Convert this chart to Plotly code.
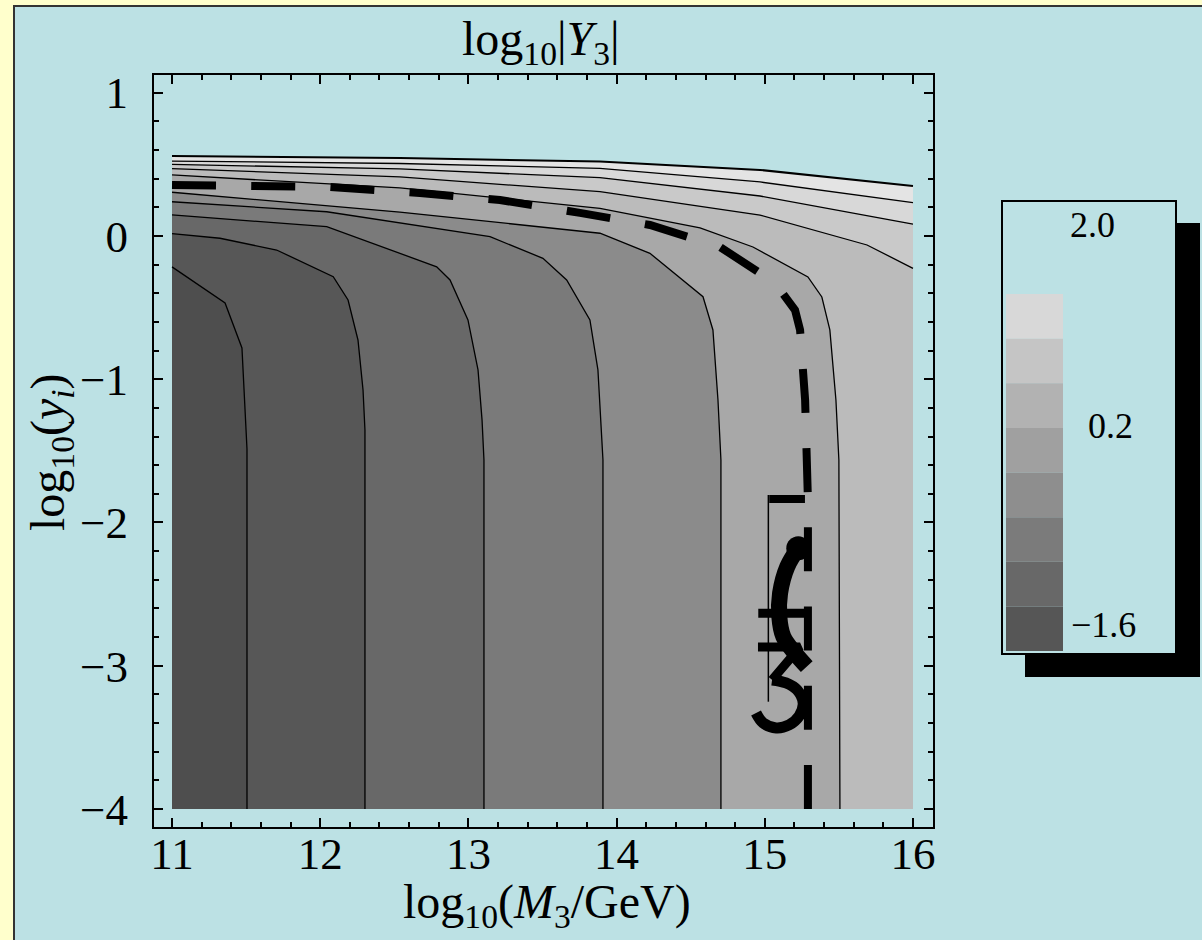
import math
import plotly.graph_objects as go

# ---------------- data ----------------
x_ticks = [11, 12, 13, 14, 15, 16]
y_ticks = [-4, -3, -2, -1, 0, 1]

# contour lines (log10 M3, log10 y_i); those ending at the bottom first
A_x = [11.0, 11.358, 11.472, 11.493, 11.506, 11.506]
A_y = [-0.216, -0.468, -0.782, -1.187, -1.487, -4.0]
B_x = [11.0, 11.324, 11.706, 12.088, 12.188, 12.255, 12.289, 12.302, 12.302]
B_y = [0.016, -0.016, -0.098, -0.284, -0.447, -0.726, -1.075, -1.354, -4.0]
C_x = [11.0, 12.044, 12.786, 12.876, 12.997, 13.065, 13.092, 13.105, 13.105]
C_y = [0.147, 0.065, -0.215, -0.307, -0.586, -0.935, -1.284, -1.564, -4.0]
D_x = [11.0, 12.044, 13.146, 13.503, 13.663, 13.820, 13.874, 13.895, 13.908, 13.908]
D_y = [0.239, 0.169, -0.005, -0.156, -0.307, -0.586, -0.935, -1.354, -1.564, -4.0]
E_x = [11.0, 12.538, 13.888, 14.225, 14.583, 14.650, 14.684, 14.704, 14.704]
E_y = [0.305, 0.167, 0.019, -0.121, -0.424, -0.656, -1.145, -1.564, -4.0]
F_x = [11.0, 12.538, 13.888, 14.563, 14.920, 15.291, 15.385, 15.439, 15.480, 15.500, 15.507]
F_y = [0.426, 0.335, 0.193, 0.056, -0.077, -0.286, -0.426, -0.656, -1.145, -1.564, -4.0]
# contours ending at the right edge
G_x = [11.0, 12.538, 13.888, 14.968, 15.690, 16.0]
G_y = [0.470, 0.412, 0.309, 0.146, -0.063, -0.226]
H_x = [11.0, 12.538, 13.888, 14.968, 16.0]
H_y = [0.500, 0.468, 0.407, 0.279, 0.082]
I_x = [11.0, 12.538, 13.888, 14.968, 16.0]
I_y = [0.523, 0.506, 0.472, 0.377, 0.232]
T_x = [11.0, 12.538, 13.888, 14.968, 16.0]
T_y = [0.558, 0.544, 0.519, 0.461, 0.349]

# dashed curve
dash_x = [11.0, 11.526, 12.066, 12.673, 13.213, 13.753, 14.225, 14.698, 15.069,
          15.204, 15.238, 15.272, 15.291, 15.291]
dash_y = [0.356, 0.356, 0.342, 0.300, 0.251, 0.161, 0.077, -0.077, -0.328,
          -0.517, -0.656, -1.145, -1.843, -4.0]

# glyph-like marks near (15.1, -2.6)
thin_x = [15.024, 15.024]
thin_y = [-1.808, -3.251]
topbar_x = [15.030, 15.271]
topbar_y = [-1.836, -1.836]
arc_x = [15.226, 15.152, 15.103, 15.098, 15.125, 15.204, 15.283]
arc_y = [-2.180, -2.308, -2.494, -2.657, -2.797, -2.913, -3.006]
bar2_x = [14.956, 15.305]
bar2_y = [-2.634, -2.634]
ezh_top_x = [14.954, 15.238, 15.049]
ezh_top_y = [-2.869, -2.869, -3.099]
bowl_x = [15.049, 15.143, 15.218, 15.259, 15.232, 15.164, 15.077, 14.988, 14.941]
bowl_y = [-3.099, -3.120, -3.169, -3.260, -3.351, -3.413, -3.434, -3.399, -3.330]

legend_colors = ["#D8D8D8", "#C5C5C5", "#B2B2B2", "#A0A0A0",
                 "#8E8E8E", "#7B7B7B", "#686868", "#565656"]
legend_labels = ["2.0", "0.2", "\u22121.6"]

# ---------------- figure ----------------
W, H = 1202, 940
L, R, T, B = 154, 933, 75, 827
XR = [10.8785, 16.135]
YR = [-4.1256, 1.1236]
BLUE = "#BCE1E4"
FONT = "Liberation Serif"


def px(xp):
    return (xp - L) / (R - L)


def py(yp):
    return (B - yp) / (B - T)


fig = go.Figure()

bottom_contours = [(A_x, A_y, "#4E4E4E"), (B_x, B_y, "#575757"), (C_x, C_y, "#686868"),
                   (D_x, D_y, "#7A7A7A"), (E_x, E_y, "#8B8B8B"), (F_x, F_y, "#A8A8A8")]
right_contours = [(T_x, T_y, "#E4E4E4"), (I_x, I_y, "#D8D8D8"),
                  (H_x, H_y, "#C9C9C9"), (G_x, G_y, "#BBBBBB")]

# fills, lightest first
for xs, ys, col in right_contours:
    fig.add_trace(go.Scatter(x=xs + [16.0, 11.0], y=ys + [-4.0, -4.0], fill="toself",
                             fillcolor=col, mode="lines", line=dict(width=0),
                             hoverinfo="skip", showlegend=False))
for xs, ys, col in reversed(bottom_contours):
    fig.add_trace(go.Scatter(x=xs + [11.0], y=ys + [-4.0], fill="toself",
                             fillcolor=col, mode="lines", line=dict(width=0),
                             hoverinfo="skip", showlegend=False))
# contour lines
for xs, ys, col in bottom_contours + right_contours:
    fig.add_trace(go.Scatter(x=xs, y=ys, mode="lines",
                             line=dict(color="black", width=2 if xs is T_x else 1.3),
                             hoverinfo="skip", showlegend=False))

# dashed line: choose the gap so that the pattern ends on a full dash
sx = (R - L) / (XR[1] - XR[0])
sy = (B - T) / (YR[1] - YR[0])
plen = sum(math.hypot((dash_x[i + 1] - dash_x[i]) * sx, (dash_y[i + 1] - dash_y[i]) * sy)
           for i in range(len(dash_x) - 1))
dash_on = 44
nper = round((plen - dash_on) / 77)
gap = (plen - dash_on) / nper - dash_on
fig.add_trace(go.Scatter(x=dash_x, y=dash_y, mode="lines",
                         line=dict(color="black", width=8,
                                   dash=f"{dash_on}px,{gap:.2f}px"),
                         hoverinfo="skip", showlegend=False))

# glyph marks
for xs, ys, w, shp in [(thin_x, thin_y, 1.5, "linear"), (topbar_x, topbar_y, 8, "linear"),
                       (arc_x, arc_y, 16, "spline"), (bar2_x, bar2_y, 9, "linear"),
                       (ezh_top_x, ezh_top_y, 9, "linear"), (bowl_x, bowl_y, 11, "spline")]:
    fig.add_trace(go.Scatter(x=xs, y=ys, mode="lines",
                             line=dict(color="black", width=w, shape=shp),
                             hoverinfo="skip", showlegend=False))
fig.add_trace(go.Scatter(x=[arc_x[0]], y=[arc_y[0]], mode="markers",
                         marker=dict(color="black", size=24), hoverinfo="skip",
                         showlegend=False))

shapes = []
# blue panel
shapes.append(dict(type="rect", xref="paper", yref="paper", x0=px(14), x1=px(1215),
                   y0=py(6), y1=py(960), fillcolor=BLUE,
                   line=dict(color="#333333", width=2), layer="below"))
# legend shadow + box
shapes.append(dict(type="rect", xref="paper", yref="paper", x0=px(1025), x1=px(1200),
                   y0=py(223), y1=py(677), fillcolor="black", line=dict(width=0)))
shapes.append(dict(type="rect", xref="paper", yref="paper", x0=px(1002), x1=px(1176),
                   y0=py(201), y1=py(654), fillcolor=BLUE,
                   line=dict(color="black", width=2)))
band_h = (651 - 294) / len(legend_colors)
for i, c in enumerate(legend_colors):
    shapes.append(dict(type="rect", xref="paper", yref="paper", x0=px(1006), x1=px(1063),
                       y0=py(294 + (i + 1) * band_h), y1=py(294 + i * band_h),
                       fillcolor=c, line=dict(width=0)))

annotations = []
for lab, (cx, cy) in zip(legend_labels, [(1092, 225), (1110, 426), (1103, 625)]):
    annotations.append(dict(text=lab, x=px(cx), y=py(cy), xref="paper", yref="paper",
                            showarrow=False, xanchor="center", yanchor="middle",
                            font=dict(family=FONT, size=36, color="black")))
annotations.append(dict(text="log<sub>10</sub>|<i>Y</i><sub>3</sub>|", x=px(541), y=py(42),
                        xref="paper", yref="paper", showarrow=False,
                        xanchor="center", yanchor="middle",
                        font=dict(family=FONT, size=48, color="black")))
annotations.append(dict(text="log<sub>10</sub>(<i>M</i><sub>3</sub>/GeV)", x=px(547), y=py(905),
                        xref="paper", yref="paper", showarrow=False,
                        xanchor="center", yanchor="middle",
                        font=dict(family=FONT, size=48, color="black")))
annotations.append(dict(text="log<sub>10</sub>(<i>y<sub>i</sub></i>)", x=px(51), y=py(452),
                        xref="paper", yref="paper", showarrow=False, textangle=-90,
                        xanchor="center", yanchor="middle",
                        font=dict(family=FONT, size=48, color="black")))

axis_common = dict(showline=True, linecolor="black", linewidth=2, mirror="allticks",
                   ticks="inside", ticklen=9, tickwidth=2, tickcolor="black",
                   showgrid=False, zeroline=False,
                   tickfont=dict(family=FONT, size=45, color="black"),
                   minor=dict(ticks="inside", ticklen=5, tickwidth=1.5, tickcolor="black",
                              dtick=0.2, showgrid=False))

fig.update_layout(
    width=W, height=H,
    margin=dict(l=L, r=W - R, t=T, b=H - B, pad=0),
    paper_bgcolor="#FFFFCC", plot_bgcolor="rgba(0,0,0,0)",
    xaxis=dict(range=XR, tickvals=x_ticks, ticklabelstandoff=-14, **axis_common),
    yaxis=dict(range=YR, tickvals=y_ticks, ticklabelstandoff=15, **axis_common),
    shapes=shapes, annotations=annotations, showlegend=False,
)

fig.write_html("out.html", config={"displayModeBar": False},
               post_script="document.body.style.margin='0px';document.body.style.overflow='hidden';")
